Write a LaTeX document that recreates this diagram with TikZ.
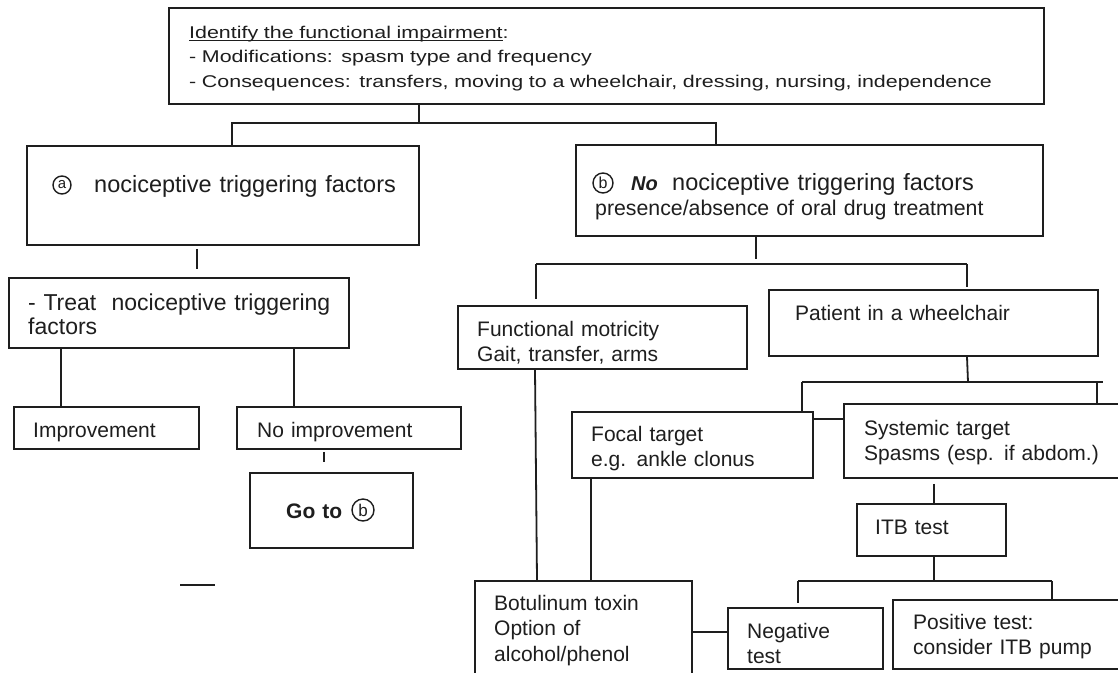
\documentclass[tikz,border=0pt]{standalone}
\usepackage{fontspec}
\setmainfont{Liberation Sans}
\newfontfamily\widefont[FakeStretch=1.26]{Liberation Sans}
\usetikzlibrary{calc}
\definecolor{linec}{HTML}{1E1E1E}
\newcommand\myul[1]{\setbox0\hbox{#1}\rlap{\rule[-2.6pt]{\wd0}{1.1pt}}\box0}
\begin{document}
\begin{tikzpicture}[x=1pt,y=-1pt,
  box/.style={draw=linec, line width=1.8pt, inner sep=0pt, rectangle},
  txt/.style={anchor=base west, inner sep=0pt, align=left, text width=420pt, text=linec, font=\fontsize{21}{25.5}\selectfont},
  circlet/.style={circle, draw=linec, line width=1.4pt, inner sep=0pt, minimum size=#1, text=linec},
  conn/.style={draw=linec, line width=1.8pt}]
\useasboundingbox (0,0) rectangle (1118,672);
\clip (0,0) rectangle (1118,672);
\fill[white] (0,0) rectangle (1118,672);

% boxes
\node[box, minimum width=875pt, minimum height=96pt] (top) at (606.5,56) {};
\node[box, minimum width=392pt, minimum height=99pt] (a) at (223,195.5) {};
\node[box, minimum width=467pt, minimum height=91pt] (b) at (809.5,190.5) {};
\node[box, minimum width=340pt, minimum height=70pt] (treat) at (179,313) {};
\node[box, minimum width=185pt, minimum height=42pt] (imp) at (106.5,428) {};
\node[box, minimum width=224pt, minimum height=42pt] (noimp) at (349,428) {};
\node[box, minimum width=163pt, minimum height=75pt] (goto) at (331.5,510.5) {};
\node[box, minimum width=289pt, minimum height=63pt] (func) at (602.5,337.5) {};
\node[box, minimum width=329pt, minimum height=66pt] (pat) at (933.5,323) {};
\node[box, minimum width=241pt, minimum height=66pt] (focal) at (692.5,445) {};
\node[box, minimum width=286pt, minimum height=74pt] (sys) at (987,441) {};
\node[box, minimum width=149pt, minimum height=52pt] (itb) at (931.5,530) {};
\node[box, minimum width=155pt, minimum height=61pt] (neg) at (805.5,638.5) {};
\node[box, minimum width=237pt, minimum height=69pt] (pos) at (1011.5,634.5) {};
\node[box, minimum width=217pt, minimum height=109pt] (bot) at (583.5,635.5) {};

% texts
\node[txt, text width=900pt, font=\widefont\fontsize{17}{24.5}\selectfont] (top-t) at (189,38)
  {\myul{Identify the functional impairment}:\\- Modifications: spasm type and frequency\\- Consequences: transfers, moving to a wheelchair, dressing, nursing, independence};
\node[circlet=18pt, font=\fontsize{15}{15}\selectfont] (a-c) at (62,185) {a};
\node[txt, font=\fontsize{23.5}{28}\selectfont] (a-t) at (94,192) {nociceptive triggering factors};
\node[circlet=20pt, font=\fontsize{16}{16}\selectfont] (b-c) at (603,183) {b};
\node[txt, font=\fontsize{23.5}{28}\selectfont] (b-t) at (631,190)
  {\makebox[41pt][l]{\fontsize{20}{24}\selectfont\bfseries\itshape No}nociceptive triggering factors};
\node[txt, font=\fontsize{21.3}{25}\selectfont] (b-t2) at (595,215) {presence/absence of oral drug treatment};
\node[txt, font=\fontsize{23}{24}\selectfont] (treat-t) at (28,310) {- Treat\ \ nociceptive triggering\\factors};
\node[txt] (imp-t) at (33,437) {Improvement};
\node[txt] (noimp-t) at (257,437) {No improvement};
\node[txt, font=\bfseries\fontsize{21}{25}\selectfont] (goto-t) at (286,518) {Go to};
\node[circlet=22pt, font=\fontsize{17}{17}\selectfont] (goto-c) at (363,510) {b};
\node[txt] (func-t) at (477,336) {Functional motricity\\Gait, transfer, arms};
\node[txt] (pat-t) at (795,320) {Patient in a wheelchair};
\node[txt] (focal-t) at (591,441) {Focal target\\e.g. ankle clonus};
\node[txt] (sys-t) at (864,435) {Systemic target\\Spasms (esp. if abdom.)};
\node[txt] (itb-t) at (875,534) {ITB test};
\node[txt] (neg-t) at (747,638) {Negative\\test};
\node[txt] (pos-t) at (913,629) {Positive test:\\consider ITB pump};
\node[txt] (bot-t) at (494,610) {Botulinum toxin\\Option of\\alcohol/phenol};

% junction coordinates
\coordinate (j1) at (419,123);
\coordinate (busA) at (232,123);
\coordinate (busB) at (716,123);
\coordinate (c197) at (197,0);
\coordinate (c61) at (61,0);
\coordinate (c294) at (294,0);
\coordinate (c324) at (324,0);
\coordinate (s1) at (180,585);
\coordinate (s2) at (215,585);
\coordinate (k1) at (756,259);
\coordinate (bus2A) at (536,264);
\coordinate (bus2B) at (967,264);
\coordinate (bus3M) at (968,382);
\coordinate (bus3A) at (802,382);
\coordinate (bus3B) at (1097,382);
\coordinate (bus3E) at (1103,382);
\coordinate (fs) at (0,419);
\coordinate (c934) at (934,0);
\coordinate (bus4M) at (934,581);
\coordinate (bus4A) at (798,581);
\coordinate (bus4B) at (1052,581);
\coordinate (c535) at (535,0);
\coordinate (c537) at (537,0);
\coordinate (c591) at (591,0);
\coordinate (c632) at (0,632);

% connectors
\draw[conn] (top.south -| j1) -- (j1);
\draw[conn] (a.north -| busA) -- (busA) -- (busB) -- (b.north -| busB);
\draw[conn, shorten <=3pt, shorten >=8pt] (a.south -| c197) -- (treat.north -| c197);
\draw[conn] (treat.south -| c61) -- (imp.north -| c61);
\draw[conn] (treat.south -| c294) -- (noimp.north -| c294);
\draw[conn, shorten <=2pt, shorten >=10pt] (noimp.south -| c324) -- (goto.north -| c324);
\draw[conn] (s1) -- (s2);
\draw[conn] (b.south -| k1) -- (k1);
\draw[conn] (bus2A) -- (bus2B);
\draw[conn, shorten >=6pt] (bus2A) -- (func.north -| bus2A);
\draw[conn, shorten >=2pt] (bus2B) -- (pat.north -| bus2B);
\draw[conn] (pat.south -| bus2B) -- (bus3M);
\draw[conn] (bus3A) -- (bus3E);
\draw[conn] (bus3A) -- (focal.north -| bus3A);
\draw[conn] (bus3B) -- (sys.north -| bus3B);
\draw[conn] (focal.east |- fs) -- (sys.west |- fs);
\draw[conn, shorten <=5pt] (sys.south -| c934) -- (itb.north -| c934);
\draw[conn] (itb.south -| bus4M) -- (bus4M);
\draw[conn] (bus4A) -- (bus4B);
\draw[conn, shorten >=4pt] (bus4A) -- (neg.north -| bus4A);
\draw[conn] (bus4B) -- (pos.north -| bus4B);
\draw[conn] (func.south -| c535) -- (bot.north -| c537);
\draw[conn] (focal.south -| c591) -- (bot.north -| c591);
\draw[conn] (bot.east |- c632) -- (neg.west |- c632);
\end{tikzpicture}
\end{document}
